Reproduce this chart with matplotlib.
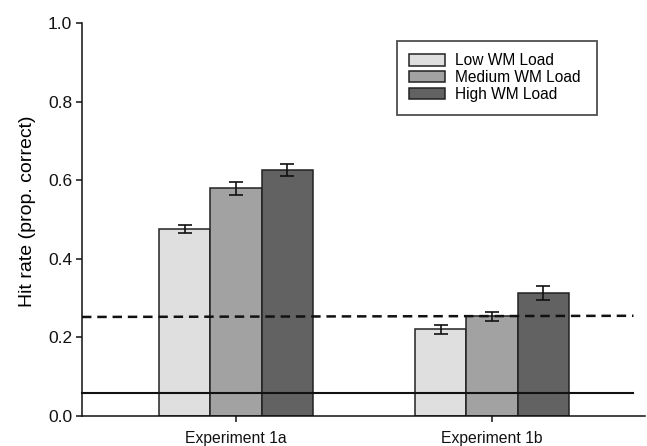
import matplotlib
matplotlib.use("Agg")
import matplotlib.pyplot as plt
import numpy as np

plt.rcParams['font.family'] = ['Liberation Sans', 'DejaVu Sans']
plt.rcParams['lines.scale_dashes'] = False

# Data
experiments = ["Experiment 1a", "Experiment 1b"]
load_levels = ["Low WM Load", "Medium WM Load", "High WM Load"]
low_load = [0.476, 0.221]
medium_load = [0.579, 0.254]
high_load = [0.626, 0.314]
low_err = [0.011, 0.0115]
medium_err = [0.016, 0.0115]
high_err = [0.016, 0.018]
chance_solid = 0.059
chance_dashed = [0.252, 0.255]

series = [low_load, medium_load, high_load]
errors = [low_err, medium_err, high_err]
colors = ["#dfdfdf", "#a2a2a2", "#626262"]
offsets = [-0.2, 0.0, 0.2]
bar_w = 0.2

fig = plt.figure(figsize=(6.47, 4.46), dpi=100)
ax = fig.add_axes([82 / 647, 30 / 446, (645 - 82) / 647, 393 / 446])

x = np.arange(len(experiments))
for vals, errs, col, off, lab in zip(series, errors, colors, offsets, load_levels):
    ax.bar(x + off, vals, width=bar_w, color=col, edgecolor="#222222",
           linewidth=1.1, label=lab, zorder=2)
    ax.errorbar(x + off, vals, yerr=errs, fmt="none", ecolor="#111111",
                elinewidth=1.2, capsize=4.8, capthick=1.2, zorder=3)

xmin, xmax = -0.602, 1.598
line_end = 1.553
ax.plot([xmin, line_end], [chance_solid, chance_solid], color="#111111",
        linewidth=1.5, zorder=4, clip_on=False)
ax.plot([xmin, line_end], chance_dashed, color="#111111", linewidth=1.8,
        dashes=(6.8, 4.2), zorder=4, clip_on=False)

ax.set_xlim(xmin, xmax)
ax.set_ylim(0, 1.0)
ax.set_xticks(x)
ax.set_xticklabels(experiments, fontsize=11.3)
ax.set_yticks([0.0, 0.2, 0.4, 0.6, 0.8, 1.0])
ax.set_yticklabels(["0.0", "0.2", "0.4", "0.6", "0.8", "1.0"], fontsize=12.5)
ax.set_ylabel("Hit rate (prop. correct)", fontsize=14)
ax.yaxis.set_label_coords(-0.081, 0.52)

for side in ["top", "right"]:
    ax.spines[side].set_visible(False)
for side in ["left", "bottom"]:
    ax.spines[side].set_linewidth(1.1)
    ax.spines[side].set_color("#111111")
ax.tick_params(axis="y", direction="out", length=4, width=1.1, pad=3, colors="#111111")
ax.tick_params(axis="x", direction="out", length=4.5, width=1.1, pad=6.5, colors="#111111")

# Legend box spans a fixed region in axes coordinates
ax_w, ax_h = 645 - 82, 393
lx0 = (397 - 82) / ax_w
lx1 = (597 - 82) / ax_w
ly_top = (416 - 41) / ax_h
leg = ax.legend(loc="upper left", bbox_to_anchor=(lx0, ly_top, lx1 - lx0, 0.0),
                mode="expand", borderaxespad=0, fontsize=11.2, frameon=True,
                fancybox=False, edgecolor="#222222", handlelength=2.3,
                handleheight=0.72, handletextpad=0.6, labelspacing=0.12,
                borderpad=0.8)
leg.get_frame().set_linewidth(1.3)

fig.savefig("out.png", dpi=100)
